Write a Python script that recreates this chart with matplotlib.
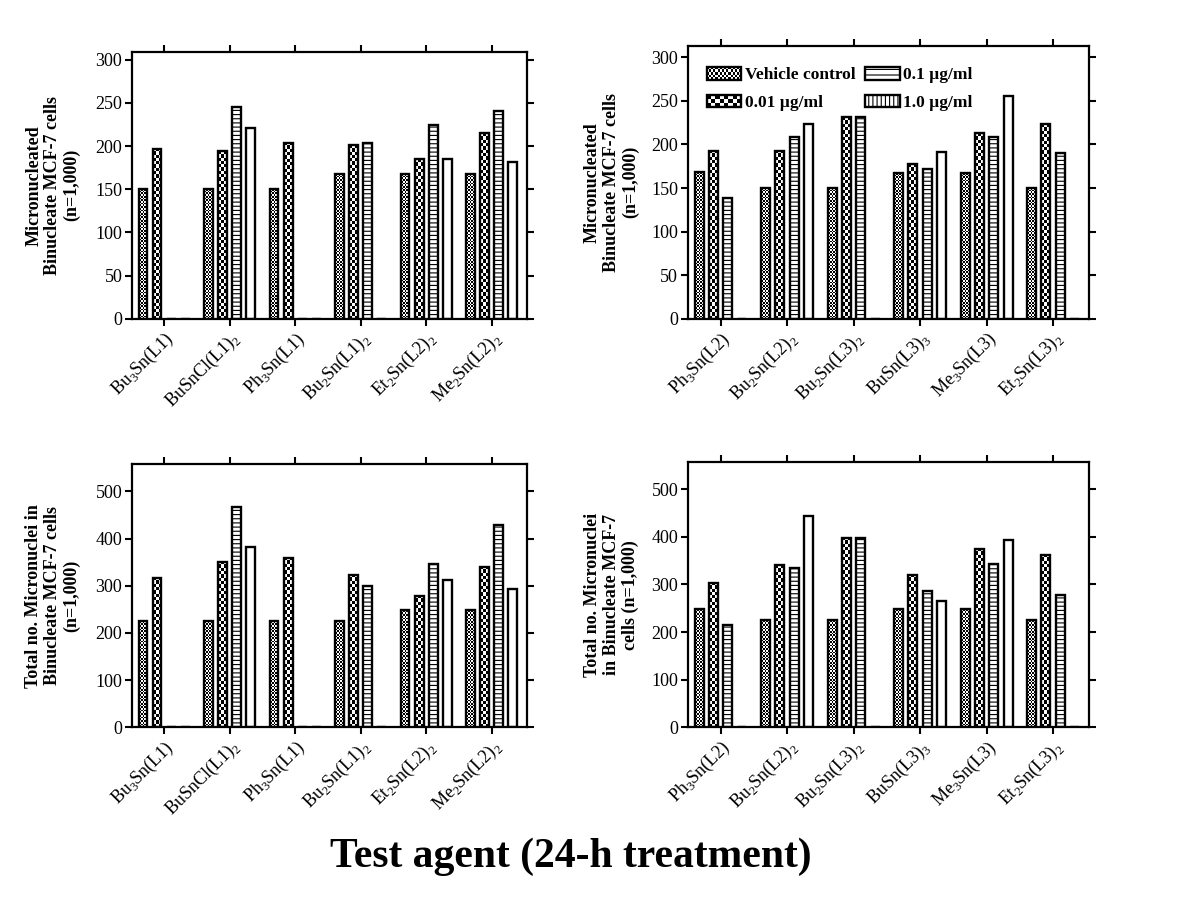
import numpy as np
import matplotlib
matplotlib.use("Agg")
import matplotlib.pyplot as plt
from matplotlib.patches import Rectangle, Patch
from matplotlib.legend_handler import HandlerBase

plt.rcParams['font.family'] = ['Liberation Serif', 'DejaVu Serif']
plt.rcParams['hatch.linewidth'] = 0.8

# ---------------- data ----------------
series = ["Vehicle control", "0.01 \u00b5g/ml", "0.1 \u00b5g/ml", "1.0 \u00b5g/ml"]

cats_left = [r"Bu$_\mathregular{3}$Sn(L1)", r"BuSnCl(L1)$_\mathregular{2}$", r"Ph$_\mathregular{3}$Sn(L1)",
             r"Bu$_\mathregular{2}$Sn(L1)$_\mathregular{2}$", r"Et$_\mathregular{2}$Sn(L2)$_\mathregular{2}$",
             r"Me$_\mathregular{2}$Sn(L2)$_\mathregular{2}$"]
cats_right = [r"Ph$_\mathregular{3}$Sn(L2)", r"Bu$_\mathregular{2}$Sn(L2)$_\mathregular{2}$",
              r"Bu$_\mathregular{2}$Sn(L3)$_\mathregular{2}$", r"BuSn(L3)$_\mathregular{3}$",
              r"Me$_\mathregular{3}$Sn(L3)", r"Et$_\mathregular{2}$Sn(L3)$_\mathregular{2}$"]

# top-left: micronucleated binucleate cells
tl_vehicle = [150, 150, 150, 168, 168, 168]
tl_c001 = [197, 194, 204, 201, 185, 215]
tl_c01 = [0, 245, 0, 204, 224, 241]
tl_c10 = [0, 221, 0, 0, 185, 182]

# top-right
tr_vehicle = [168, 150, 150, 167, 167, 150]
tr_c001 = [193, 193, 231, 177, 213, 223]
tr_c01 = [139, 209, 231, 172, 209, 190]
tr_c10 = [0, 224, 0, 191, 256, 0]

# bottom-left: total micronuclei
bl_vehicle = [225, 225, 225, 225, 248, 248]
bl_c001 = [317, 350, 359, 323, 279, 340]
bl_c01 = [0, 467, 0, 299, 346, 428]
bl_c10 = [0, 383, 0, 0, 313, 292]

# bottom-right
br_vehicle = [248, 225, 225, 248, 248, 225]
br_c001 = [303, 340, 397, 320, 375, 362]
br_c01 = [215, 335, 397, 287, 342, 277]
br_c10 = [0, 443, 0, 266, 393, 0]

ylab_top = "Micronucleated\nBinucleate MCF-7 cells\n(n=1,000)"
ylab_bl = "Total no. Micronuclei in\nBinucleate MCF-7 cells\n(n=1,000)"
ylab_br = "Total no. Micronuclei\nin Binucleate MCF-7\ncells (n=1,000)"

fig = plt.figure(figsize=(12, 9), dpi=100)

EDGE_LW = 1.7
PITCH = 0.215
BW = 0.135


def add_checker(ax, rect, cell_px):
    h = rect.get_height()
    if h <= 0:
        return
    x0 = rect.get_x()
    w = rect.get_width()
    p0 = ax.transData.transform((x0, 0))
    p1 = ax.transData.transform((x0 + w, h))
    ncols = max(1, int(round((p1[0] - p0[0]) / cell_px)))
    nrows = max(1, int(round((p1[1] - p0[1]) / cell_px)))
    arr = np.add.outer(np.arange(nrows), np.arange(ncols)) % 2
    ax.imshow(arr, cmap='gray', vmin=0, vmax=1, extent=(x0, x0 + w, 0, h),
              origin='lower', interpolation='nearest', aspect='auto',
              clip_path=rect, zorder=0.9)


def panel(rect, cats, vals, ylim, yticks, ylabel, label_x):
    ax = fig.add_axes(rect)
    x = np.arange(len(cats))
    xl = (-0.49, 5.54)
    ax.set_xlim(*xl)
    ax.set_ylim(*ylim)
    offs = [-1.5, -0.5, 0.5, 1.5]
    styles = [dict(facecolor='none'), dict(facecolor='none'),
              dict(facecolor='white', hatch='----'), dict(facecolor='white')]
    for k, (v, st) in enumerate(zip(vals, styles)):
        bars = ax.bar(x + offs[k] * PITCH, v, width=BW, edgecolor='black',
                      linewidth=EDGE_LW, zorder=1, **st)
        if k == 0:
            for b in bars:
                add_checker(ax, b, 1.7)
        elif k == 1:
            for b in bars:
                add_checker(ax, b, 3.3)
    ax.set_xlim(*xl)
    ax.set_ylim(*ylim)
    ax.set_xticks(x)
    ax.set_xticklabels(cats, rotation=45, ha='right', rotation_mode='anchor', fontsize=13)
    ax.set_yticks(yticks)
    ax.tick_params(axis='both', which='major', direction='out', length=5, width=1.5,
                   top=True, right=True, labelsize=13, pad=2)
    for s in ax.spines.values():
        s.set_linewidth(1.6)
    ax.set_ylabel(ylabel, fontsize=13, fontweight='bold', va='center', ha='center',
                  linespacing=1.15)
    ax.yaxis.set_label_coords(label_x, 0.5)
    return ax


ax1 = panel([0.110, 0.6459, 0.3292, 0.2963], cats_left,
            [tl_vehicle, tl_c001, tl_c01, tl_c10], (0, 309), range(0, 301, 50),
            ylab_top, -0.20)
ax2 = panel([0.5733, 0.6459, 0.3342, 0.3030], cats_right,
            [tr_vehicle, tr_c001, tr_c01, tr_c10], (0, 313), range(0, 301, 50),
            ylab_top, -0.19)
ax3 = panel([0.110, 0.1919, 0.3292, 0.2926], cats_left,
            [bl_vehicle, bl_c001, bl_c01, bl_c10], (0, 558), range(0, 501, 100),
            ylab_bl, -0.20)
ax4 = panel([0.5733, 0.1919, 0.3342, 0.2948], cats_right,
            [br_vehicle, br_c001, br_c01, br_c10], (0, 557), range(0, 501, 100),
            ylab_br, -0.19)


class HandlerChecker(HandlerBase):
    def __init__(self, ncols, nrows):
        super().__init__()
        self.ncols = ncols
        self.nrows = nrows

    def create_artists(self, legend, orig_handle, xdescent, ydescent, width, height,
                       fontsize, trans):
        arts = []
        cw = width / self.ncols
        ch = height / self.nrows
        for i in range(self.nrows):
            for j in range(self.ncols):
                if (i + j) % 2 == 0:
                    arts.append(Rectangle((-xdescent + j * cw, -ydescent + i * ch), cw, ch,
                                          facecolor='black', edgecolor='none', transform=trans))
        arts.append(Rectangle((-xdescent, -ydescent), width, height, fill=False,
                              edgecolor='black', linewidth=1.7, transform=trans))
        return arts


h_veh = Patch(facecolor='white', edgecolor='black')
h_001 = Patch(facecolor='white', edgecolor='black')
h_01 = Patch(facecolor='white', edgecolor='black', hatch='---', linewidth=1.7)
h_10 = Patch(facecolor='white', edgecolor='black', hatch='||||', linewidth=1.7)
leg = ax2.legend([h_veh, h_001, h_01, h_10], series, ncol=2, loc='upper left',
                 bbox_to_anchor=(0.025, 0.955), frameon=False, borderpad=0,
                 handlelength=2.0, handleheight=0.75, handletextpad=0.2,
                 columnspacing=0.55, labelspacing=0.65,
                 prop={'weight': 'bold', 'size': 12.5},
                 handler_map={h_veh: HandlerChecker(16, 5), h_001: HandlerChecker(8, 3)})

fig.text(0.476, 0.048, "Test agent (24-h treatment)", fontsize=30, fontweight='bold',
         ha='center', va='center')

fig.savefig("out.png", dpi=100)
